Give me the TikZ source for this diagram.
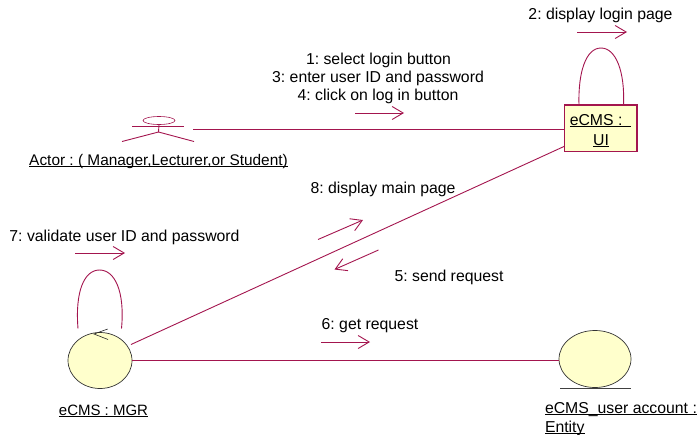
\documentclass[tikz,border=0pt]{standalone}
\usepackage{fontspec}
\setmainfont{Liberation Sans}
\usetikzlibrary{arrows.meta,shapes.geometric}
\definecolor{umlline}{HTML}{A3154E}
\definecolor{umlfill}{HTML}{FFFFCC}
\newcommand{\ul}[1]{\underline{\smash{\strut #1}}}
\frenchspacing
\tikzset{
  lbl/.style={inner sep=0pt,outer sep=0pt,text=black,font=\fontsize{15.8}{18}\selectfont},
  lblm/.style={lbl,font=\fontsize{15}{18}\selectfont},
  lbla/.style={lbl,font=\fontsize{15.4}{18}\selectfont},
  link/.style={draw=umlline,line width=0.9pt},
  msg/.style={draw=umlline,line width=0.9pt,-{Straight Barb[length=11pt,width=13pt,line width=0.9pt]}},
  objbox/.style={draw=umlline,fill=umlfill,line width=1.1pt,minimum width=72.5pt,minimum height=46.5pt,inner sep=0pt,outer sep=0pt},
  objell/.style={ellipse,draw=black!80,fill=umlfill,line width=0.7pt,inner sep=0pt,outer sep=0pt}
}
\begin{document}
\begin{tikzpicture}[x=1pt,y=-1pt]
\useasboundingbox (0,0) rectangle (698,434);
% objects
\node[objbox] (ui) at (600.75,128.25) {};
\node[lbl] (uitxt1) at (600.5,126) {\ul{eCMS :\ \ }};
\node[lbl] (uitxt2) at (601,146) {\ul{UI}};
\node[objell,minimum width=64pt,minimum height=56pt] (mgr) at (100,360.5) {};
\node[objell,minimum width=72pt,minimum height=57pt] (ent) at (595,359) {};
\coordinate (entl) at (560,388);
\coordinate (entr) at (631,388);
\draw[draw=black!75,line width=0.7pt] (entl) -- (entr);
% actor
\node[ellipse,draw=umlline,line width=0.6pt,minimum width=32pt,minimum height=8pt,inner sep=0pt] (acthead) at (159,120.5) {};
\coordinate (armL) at (132,126.5);
\coordinate (armR) at (184,126.5);
\coordinate (hip) at (158.5,132);
\coordinate (legL) at (122,141.5);
\coordinate (legR) at (194,141.5);
\coordinate (actend) at (193,129);
\draw[link] (armL) -- (armR);
\draw[link] (acthead.south) -- (hip);
\draw[link] (legL) -- (hip) -- (legR);
% links
\coordinate (uiL) at (ui.west |- actend);
\draw[link] (actend) -- (uiL);
\coordinate (uiLL) at ([yshift=-18pt]ui.west);
\coordinate (mgrR) at (131,344.5);
\draw[link] (uiLL) -- (mgrR);
\draw[link] (mgr.east) -- (mgr.east -| ent.west);
% self loops
\coordinate (ua) at (579,105);
\coordinate (ub) at (623.5,105);
\coordinate (ut) at (601,48);
\draw[link] (ua) .. controls (578,72) and (586,48) .. (ut) .. controls (616,48) and (625,72) .. (ub);
\coordinate (ma) at (78,328.5);
\coordinate (mb) at (121.5,328.5);
\coordinate (mt) at (99.5,270);
\draw[link] (ma) .. controls (75,292) and (84,270) .. (mt) .. controls (115,270) and (125,292) .. (mb);
\coordinate (ha) at (107.7,329);
\coordinate (hb) at (94,334);
\coordinate (hc) at (108,339.5);
\draw[draw=black!85,line width=0.6pt] (ha) -- (hb) -- (hc);
% message arrows
\coordinate (a1s) at (355,113); \coordinate (a1e) at (404,113);
\coordinate (a2s) at (577,32);  \coordinate (a2e) at (627,32);
\coordinate (a6s) at (321,342); \coordinate (a6e) at (370,342);
\coordinate (a7s) at (75,253);  \coordinate (a7e) at (125,253);
\coordinate (a8s) at (318,239.5); \coordinate (a8e) at (363,220);
\coordinate (a5s) at (378.5,250); \coordinate (a5e) at (334.5,269.5);
\draw[msg] (a1s) -- (a1e);
\draw[msg] (a2s) -- (a2e);
\draw[msg] (a6s) -- (a6e);
\draw[msg] (a7s) -- (a7e);
\draw[msg] (a8s) -- (a8e);
\draw[msg] (a5s) -- (a5e);
% labels
\node[lbl] (l1) at (378.5,60) {1: select login button};
\node[lbl] (l3) at (378,78) {3: enter user ID and password};
\node[lbl] (l4) at (378,96) {4: click on log in button};
\node[lbl] (l2) at (600.5,15) {2: display login page};
\node[lbl] (l8) at (383,189) {8: display main page};
\node[lbl] (l5) at (449,277) {5: send request};
\node[lbl] (l6) at (370,326) {6: get request};
\node[lbl] (l7) at (124.5,237) {7: validate user ID and password};
\node[lbla] (actl) at (158.5,166) {\ul{Actor : ( Manager,Lecturer,or Student)}};
\node[lblm] (mgrl) at (103.5,416) {\ul{eCMS : MGR}};
\node[lbl,anchor=west] (entl1) at (545,414) {\ul{eCMS\_user account :}};
\node[lbl,anchor=west] (entl2) at (545,433) {\ul{Entity}};
\end{tikzpicture}
\end{document}
